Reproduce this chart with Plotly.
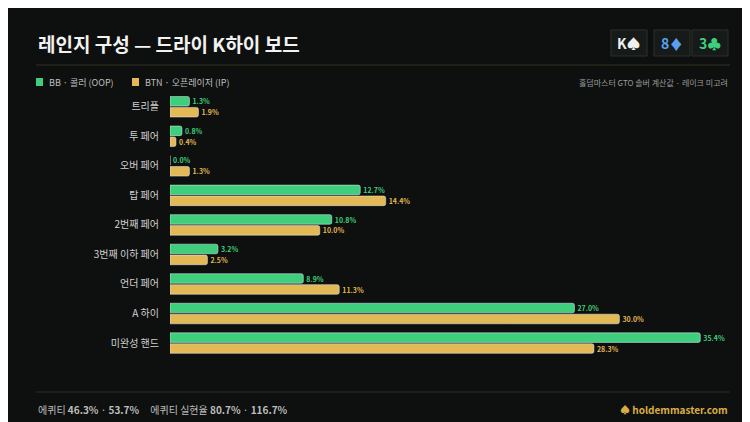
import plotly.graph_objects as go

categories = ["트리플", "투 페어", "오버 페어", "탑 페어", "2번째 페어", "3번째 이하 페어", "언더 페어", "A 하이", "미완성 핸드"]
bb_oop = [1.3, 0.8, 0.0, 12.7, 10.8, 3.2, 8.9, 27.0, 35.4]
btn_ip = [1.9, 0.4, 1.3, 14.4, 10.0, 2.5, 11.3, 30.0, 28.3]

GREEN = "#3fcf7c"
GOLD = "#e2b955"
BG = "#0e100f"
FONT = "Noto Sans CJK KR"

fig = go.Figure()
fig.add_trace(go.Bar(y=categories, x=bb_oop, orientation="h", name="BB · 콜러 (OOP)",
                     marker_color=GREEN, text=[f"<b>{v:.1f}%</b>" for v in bb_oop],
                     textposition="outside", textfont=dict(color=GREEN, size=8, family=FONT),
                     cliponaxis=False))
fig.add_trace(go.Bar(y=categories, x=btn_ip, orientation="h", name="BTN · 오픈레이저 (IP)",
                     marker_color=GOLD, text=[f"<b>{v:.1f}%</b>" for v in btn_ip],
                     textposition="outside", textfont=dict(color=GOLD, size=8, family=FONT),
                     cliponaxis=False))

fig.update_layout(
    width=750, height=422, margin=dict(l=0, r=0, t=0, b=0),
    paper_bgcolor=BG, plot_bgcolor=BG, showlegend=False,
    barmode="group", bargap=0.26, bargroupgap=0.12, barcornerradius=2,
    font=dict(family=FONT, color="#cfcfcf"),
    xaxis=dict(domain=[0.216, 0.963], range=[0, 37.4], visible=False),
    yaxis=dict(domain=[0.171, 0.801], autorange="reversed", showgrid=False,
               ticks="", ticklabelstandoff=10, tickfont=dict(size=10, color="#d0d0d0")),
)


def note(x, y, text, size, color, xanchor="left"):
    fig.add_annotation(x=x / 750, y=1 - y / 422, xref="paper", yref="paper",
                       xanchor=xanchor, yanchor="middle", text=text, showarrow=False,
                       font=dict(size=size, color=color, family=FONT))


# title and separators
note(28, 35, "<b>레인지 구성 — 드라이 K하이 보드</b>", 19, "#f2f2f2")
fig.add_shape(type="line", xref="paper", yref="paper", x0=28 / 750, x1=722 / 750,
              y0=1 - 57 / 422, y1=1 - 57 / 422, line=dict(color="#2f3322", width=1))
fig.add_shape(type="line", xref="paper", yref="paper", x0=28 / 750, x1=722 / 750,
              y0=1 - 384 / 422, y1=1 - 384 / 422, line=dict(color="#2a2c2a", width=1))

# board cards
cards = [("K♠", "#f0f0f0", 603), ("8♦", "#5aa0f0", 646), ("3♣", "#3fcf7c", 684)]
for txt, col, x0 in cards:
    fig.add_shape(type="rect", xref="paper", yref="paper", x0=x0 / 750, x1=(x0 + 36) / 750,
                  y0=1 - 48 / 422, y1=1 - 22 / 422, fillcolor="#161a18",
                  line=dict(color="#2c302d", width=1))
    note(x0 + 18, 35, f"<b>{txt}</b>", 14, col, xanchor="center")

# legend
for x0, col, label in [(28, GREEN, "BB · 콜러 (OOP)"), (124, GOLD, "BTN · 오픈레이저 (IP)")]:
    fig.add_shape(type="rect", xref="paper", yref="paper", x0=x0 / 750, x1=(x0 + 7) / 750,
                  y0=1 - 78 / 422, y1=1 - 70 / 422, fillcolor=col, line_width=0)
    note(x0 + 11, 74, label, 9, "#bfbfbf")
note(722, 74, "홀덤마스터 GTO 솔버 계산값 · 레이크 미고려", 8, "#9a9a9a", xanchor="right")

# footer
note(28, 401, "에퀴티 <b>46.3%</b> · <b>53.7%</b>     에퀴티 실현율 <b>80.7%</b> · <b>116.7%</b>",
     10, "#bdbdbd")
note(722, 401, "<b>♠ holdemmaster.com</b>", 10, "#d9ad45", xanchor="right")

fig.write_html("out.html")
